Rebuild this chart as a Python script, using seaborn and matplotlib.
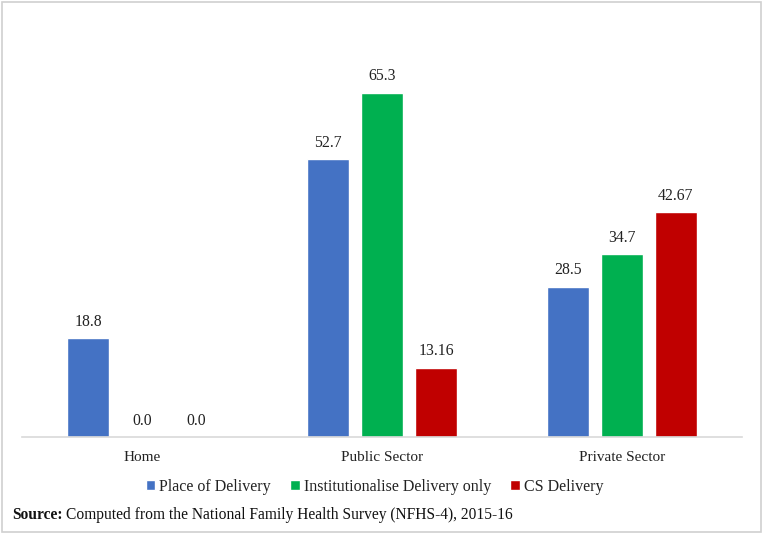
import matplotlib
matplotlib.use("Agg")
import matplotlib.pyplot as plt
from matplotlib.font_manager import FontProperties
from matplotlib.patches import Rectangle
import pandas as pd
import seaborn as sns

categories = ["Home", "Public Sector", "Private Sector"]
series = ["Place of Delivery", "Institutionalise Delivery only", "CS Delivery"]
place_of_delivery = [18.8, 52.7, 28.5]
institutional_only = [0.0, 65.3, 34.7]
cs_delivery = [0.0, 13.16, 42.67]
value_labels = [
    ["18.8", "52.7", "28.5"],
    ["0.0", "65.3", "34.7"],
    ["0.0", "13.16", "42.67"],
]
colors = ["#4472C4", "#00B050", "#C00000"]

df = pd.DataFrame({
    "sector": categories * 3,
    "series": [s for s in series for _ in categories],
    "value": place_of_delivery + institutional_only + cs_delivery,
})

sns.set_theme(style="white")
SERIF = ["Liberation Serif", "DejaVu Serif"]
plt.rcParams["font.family"] = SERIF

fig = plt.figure(figsize=(7.64, 5.35), dpi=100)
ax = fig.add_axes([22 / 764, 98 / 535, 720 / 764, 407 / 535])

sns.barplot(data=df, x="sector", y="value", hue="series", order=categories,
            hue_order=series, palette=colors, saturation=1, errorbar=None,
            width=0.675, gap=0.24, ax=ax)

for cont, labs in zip(ax.containers, value_labels):
    ax.bar_label(cont, labels=labs, padding=6, fontsize=11.3, color="#222222",
                 family=SERIF)

ax.set_xlim(-0.5, 2.5)
ax.set_ylim(0, 77.2)
ax.set_xlabel("")
ax.set_ylabel("")
ax.set_yticks([])
for side in ["top", "right", "left"]:
    ax.spines[side].set_visible(False)
ax.spines["bottom"].set_color("#D9D9D9")
ax.spines["bottom"].set_linewidth(1.2)
ax.tick_params(axis="x", length=0, labelsize=11, pad=10, colors="#222222")
for lab in ax.get_xticklabels():
    lab.set_family(SERIF)

leg = ax.legend(loc="center", bbox_to_anchor=(0.49, 0.09), bbox_transform=fig.transFigure,
                ncol=3, frameon=False, prop=FontProperties(family=SERIF, size=11.5),
                handlelength=0.6, handleheight=0.6, handletextpad=0.25,
                columnspacing=1.2)
for t in leg.get_texts():
    t.set_color("#222222")

t1 = fig.text(12 / 764, 20 / 535, "Source:", fontsize=11.2, fontweight="bold",
              va="center", color="#111111", family=SERIF)
fig.canvas.draw()
bb = t1.get_window_extent()
fig.text((bb.x1 + 3) / 764, 20 / 535,
         "Computed from the National Family Health Survey (NFHS-4), 2015-16",
         fontsize=11.2, va="center", color="#111111", family=SERIF)

fig.patches.append(Rectangle((2 / 764, 3 / 535), 759 / 764, 530 / 535, transform=fig.transFigure,
                             fill=False, edgecolor="#D0D0D0", linewidth=1.2))

fig.savefig("out.png", dpi=100)
